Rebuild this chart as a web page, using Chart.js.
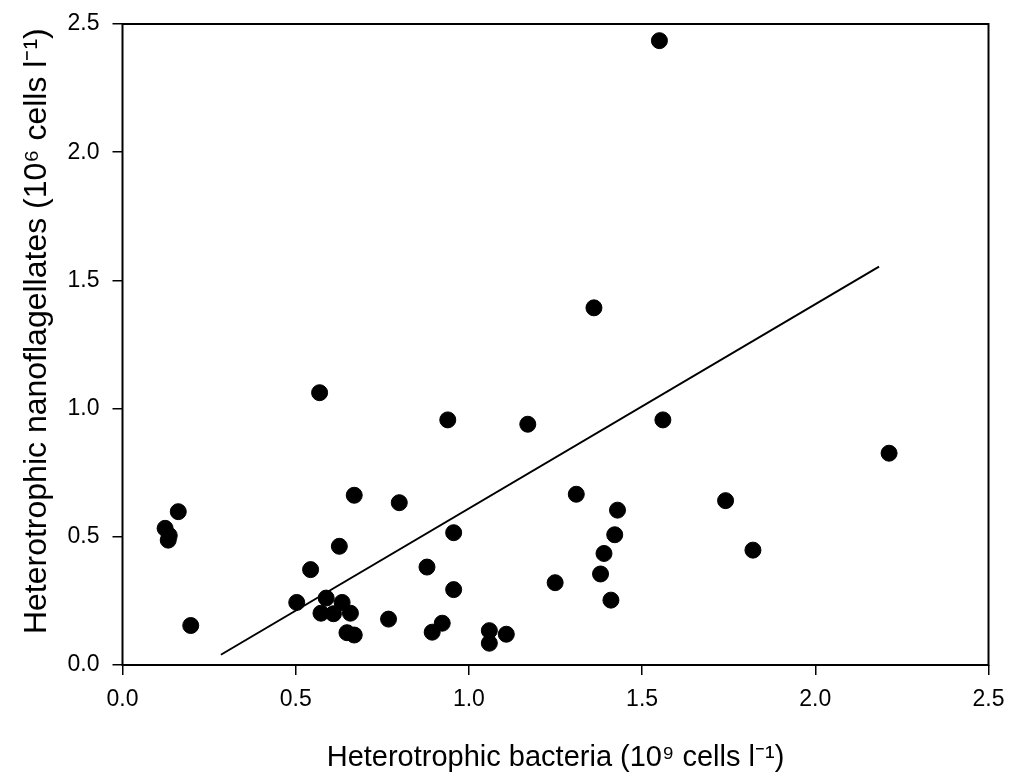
<!DOCTYPE html>
<html>
<head>
<meta charset="utf-8">
<script src="https://cdn.jsdelivr.net/npm/chart.js@4.4.1/dist/chart.umd.min.js"></script>
<style>
  html, body { margin: 0; padding: 0; background: #fff; }
  #wrap { width: 1010px; height: 775px; }
</style>
</head>
<body>
<div id="wrap"><canvas id="chart"></canvas></div>
<script>
// bacteria (10^9 cells/l) vs nanoflagellates (10^6 cells/l)
const bacteria = [1.550, 1.361, 0.569, 0.939, 1.170, 1.560, 2.213, 0.669, 0.799, 1.310,
  1.741, 1.429, 1.421, 1.390, 1.380, 1.410, 1.820, 1.249, 0.956, 0.956,
  0.879, 0.923, 0.894, 1.059, 1.059, 1.108, 0.768, 0.626, 0.543, 0.503,
  0.588, 0.573, 0.609, 0.634, 0.658, 0.648, 0.669, 0.161, 0.123, 0.135,
  0.132, 0.197];
const flagellates = [2.435, 1.393, 1.062, 0.956, 0.939, 0.956, 0.826, 0.662, 0.633, 0.666,
  0.641, 0.604, 0.508, 0.435, 0.355, 0.253, 0.448, 0.321, 0.516, 0.294,
  0.382, 0.163, 0.128, 0.134, 0.085, 0.120, 0.179, 0.463, 0.372, 0.244,
  0.261, 0.202, 0.200, 0.244, 0.202, 0.126, 0.117, 0.598, 0.533, 0.505,
  0.487, 0.154];

// regression line ends
const fitX = [0.284, 2.184];
const fitY = [0.040, 1.554];

const xTicks = [0, 0.5, 1.0, 1.5, 2.0, 2.5];
const yTicks = [0, 0.5, 1.0, 1.5, 2.0, 2.5];

const points = bacteria.map((b, i) => ({ x: b, y: flagellates[i] }));
const fitLine = fitX.map((x, i) => ({ x: x, y: fitY[i] }));

const frame = {
  id: 'frame',
  afterDatasetsDraw(chart) {
    const a = chart.chartArea;
    const ctx = chart.ctx;
    ctx.save();
    ctx.strokeStyle = '#000';
    ctx.lineWidth = 2;
    ctx.strokeRect(a.left, a.top, a.right - a.left, a.bottom - a.top);
    ctx.restore();
  }
};

new Chart(document.getElementById('chart'), {
  type: 'scatter',
  data: {
    datasets: [
      {
        label: 'HNF',
        data: points,
        backgroundColor: '#000',
        borderColor: '#000',
        pointRadius: 8,
        pointHoverRadius: 8
      },
      {
        type: 'line',
        label: 'fit',
        data: fitLine,
        borderColor: '#000',
        borderWidth: 2,
        pointRadius: 0,
        fill: false
      }
    ]
  },
  options: {
    responsive: true,
    maintainAspectRatio: false,
    animation: false,
    layout: { padding: { left: 0, right: 21.5, top: 24, bottom: 0 } },
    plugins: {
      legend: { display: false },
      tooltip: { enabled: false }
    },
    scales: {
      x: {
        type: 'linear',
        min: 0, max: 2.5,
        afterBuildTicks: (s) => { s.ticks = xTicks.map(v => ({ value: v })); },
        afterFit: (s) => { s.height = 110; s.paddingLeft = 0; s.paddingRight = 0; },
        grid: { display: true, drawOnChartArea: false, tickLength: 10, color: '#000', lineWidth: 1.5 },
        border: { display: false },
        ticks: {
          color: '#000',
          padding: 11,
          font: { family: 'Liberation Sans, Arial', size: 23 },
          callback: (v) => Number(v).toFixed(1)
        },
        title: {
          display: true,
          text: 'Heterotrophic bacteria (10⁹ cells l⁻¹)',
          color: '#000',
          font: { family: 'Liberation Sans, Arial', size: 29 },
          padding: { top: 0, bottom: 0 }
        }
      },
      y: {
        type: 'linear',
        min: 0, max: 2.5,
        afterBuildTicks: (s) => { s.ticks = yTicks.map(v => ({ value: v })); },
        afterFit: (s) => { s.width = 122.5; s.paddingTop = 0; s.paddingBottom = 0; },
        grid: { display: true, drawOnChartArea: false, tickLength: 10, color: '#000', lineWidth: 1.5 },
        border: { display: false },
        ticks: {
          color: '#000',
          padding: 13,
          font: { family: 'Liberation Sans, Arial', size: 23 },
          callback: (v) => Number(v).toFixed(1)
        },
        title: {
          display: true,
          // leading spaces nudge the title up like in the original
          text: '   Heterotrophic nanoflagellates (10⁶ cells l⁻¹)',
          color: '#000',
          font: { family: 'Liberation Sans, Arial', size: 32 },
          padding: { top: 18, bottom: 0 }
        }
      }
    }
  },
  plugins: [frame]
});
</script>
</body>
</html>
